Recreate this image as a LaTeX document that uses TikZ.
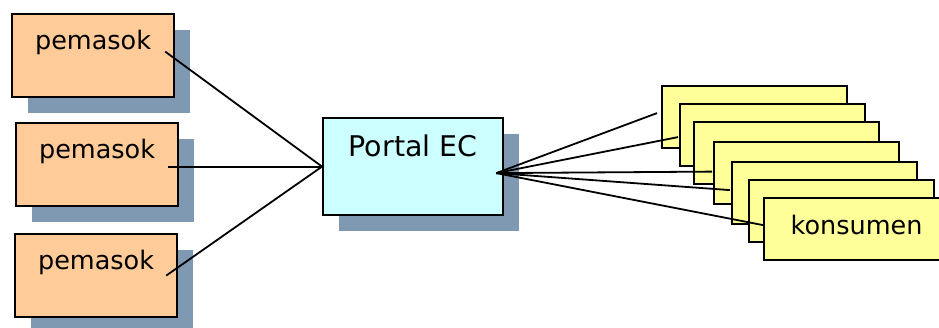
\documentclass[tikz,border=0pt]{standalone}
\usepackage{fontspec}
\setmainfont{DejaVu Sans}
\usetikzlibrary{shadows,calc}
\definecolor{suppfill}{HTML}{FFCC99}
\definecolor{portalfill}{HTML}{CCFFFF}
\definecolor{custfill}{HTML}{FFFF99}
\definecolor{shadowc}{HTML}{7F99B2}
\tikzset{
  boxbase/.style={draw=black, line width=2.2pt, rectangle, inner sep=0pt, anchor=north west},
  deepshadow/.style={drop shadow={shadow xshift=16pt, shadow yshift=-16pt, fill=shadowc, opacity=1}},
  supplier/.style={boxbase, deepshadow, fill=suppfill, minimum width=162pt,
    text height=35pt, text depth=48pt, font=\fontsize{25.5}{30}\selectfont},
  portalbox/.style={boxbase, deepshadow, fill=portalfill, minimum width=180pt,
    text height=38pt, text depth=59pt, font=\fontsize{28.5}{33}\selectfont},
  customer/.style={boxbase, fill=custfill, minimum width=185pt, minimum height=62pt,
    text height=36pt, text depth=26pt, font=\fontsize{25.5}{30}\selectfont},
  link/.style={draw=black, line width=1.8pt}
}
\begin{document}
\begin{tikzpicture}[x=1pt, y=-1pt]
  \useasboundingbox (0,0) rectangle (939,327);
  \clip (0,0) rectangle (939,327);

  % suppliers
  \node[supplier] (p1) at (11,13) {pemasok};
  \node[supplier] (p2) at (15,122) {pemasok};
  \node[supplier] (p3) at (14,233) {pemasok};

  % central portal
  \node[portalbox] (portal) at (322,117) {Portal EC};

  % stacked customers, back to front; only the front card's label is visible
  \node[customer] (k1) at (661,85)  {};
  \node[customer] (k2) at (679,103) {};
  \node[customer] (k3) at (693,121) {};
  \node[customer] (k4) at (713,141) {};
  \node[customer] (k5) at (731,161) {};
  \node[customer] (k6) at (748,179) {};
  \node[customer] (k7) at (763,197) {konsumen};

  % connection points
  \coordinate (pin)  at (portal.west);
  \coordinate (pout) at ($(portal.east)+(-8,6.5)$);
  \coordinate (s1) at ($(p1.east)+(-10,-4)$);
  \coordinate (s2) at ($(p2.east)+(-11,2)$);
  \coordinate (s3) at ($(p3.east)+(-12,0)$);
  \coordinate (c1) at ($(k1.west)+(-4,-4)$);
  \coordinate (c2) at ($(k2.west)+(-1,2)$);
  \coordinate (c4) at ($(k4.west)+(-1,-1.5)$);
  \coordinate (c5) at ($(k5.west)+(-1,-3)$);
  \coordinate (c7) at ($(k7.west)+(0,-4)$);

  % links
  \draw[link] (s1) -- (pin);
  \draw[link] (s2) -- (pin);
  \draw[link] (s3) -- (pin);
  \draw[link] (pout) -- (c1);
  \draw[link] (pout) -- (c2);
  \draw[link] (pout) -- (c4);
  \draw[link] (pout) -- (c5);
  \draw[link] (pout) -- (c7);
\end{tikzpicture}
\end{document}
